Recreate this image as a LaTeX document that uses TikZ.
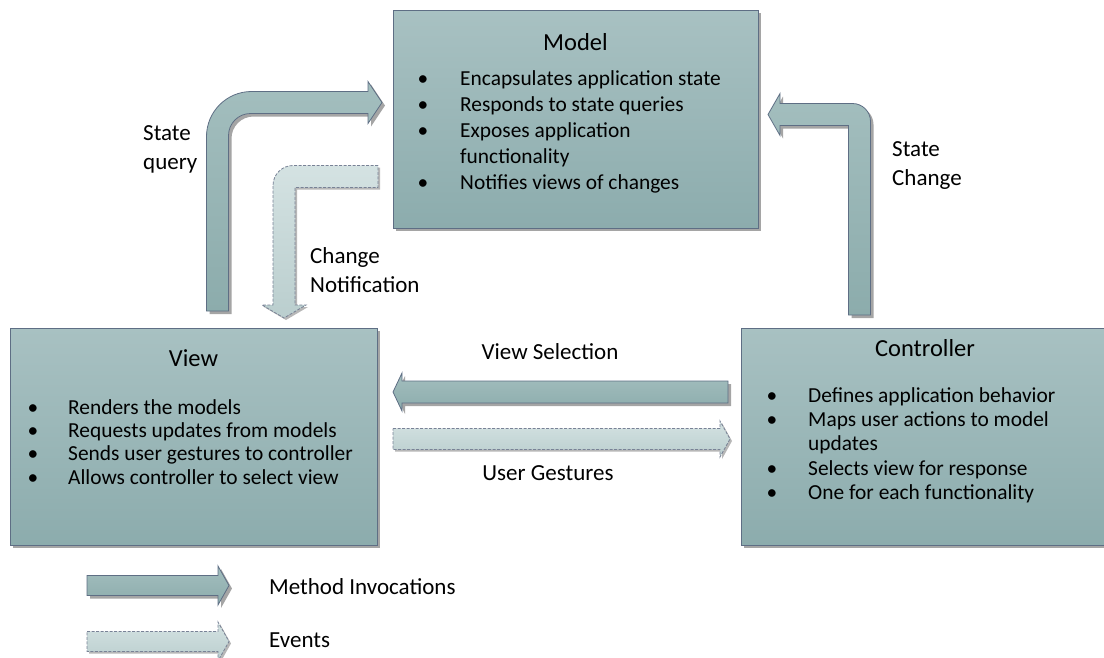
\documentclass[tikz,border=0pt]{standalone}
\usepackage{fontspec}
\setmainfont{Carlito}
\usetikzlibrary{shadows}
\definecolor{boxtop}{RGB}{168,193,194}
\definecolor{boxbot}{RGB}{140,172,173}
\definecolor{boxline}{RGB}{94,110,132}
\definecolor{shadowgrey}{RGB}{165,165,165}
\definecolor{calltop}{RGB}{163,190,190}
\definecolor{callbot}{RGB}{140,172,172}
\definecolor{evtop}{RGB}{212,226,226}
\definecolor{evbot}{RGB}{186,206,206}
\definecolor{evline}{RGB}{120,130,150}
\tikzset{box/.style={draw=boxline, line width=1pt, top color=boxtop, bottom color=boxbot, inner sep=0pt, minimum width=367pt, minimum height=217pt, drop shadow={shadow xshift=3pt, shadow yshift=-3pt, fill=shadowgrey, opacity=1}}}
\tikzset{title/.style={anchor=base, inner sep=0pt, font=\fontsize{24.5}{29}\selectfont}}
\tikzset{dot/.style={anchor=base, inner sep=0pt, font=\fontsize{21.4}{25}\selectfont}}
\tikzset{item/.style={anchor=base west, inner sep=0pt, font=\fontsize{21.4}{25}\selectfont}}
\tikzset{lbl/.style={inner sep=0pt, align=left, font=\fontsize{23}{29}\selectfont}}
\tikzset{callarrow/.style={draw=boxline, line width=0.8pt, top color=calltop, bottom color=callbot, drop shadow={shadow xshift=3pt, shadow yshift=-3pt, fill=shadowgrey, opacity=1}}}
\tikzset{eventarrow/.style={draw=evline, line width=0.8pt, dash pattern=on 3pt off 1.5pt, top color=evtop, bottom color=evbot, drop shadow={shadow xshift=2pt, shadow yshift=-2pt, fill=shadowgrey, opacity=.8}}}

\begin{document}
\begin{tikzpicture}[x=1pt,y=-1pt]
\useasboundingbox (0,0) rectangle (1104,657);

%boxes
\node[box, minimum width=365pt, minimum height=218pt] (model) at (575.5,119) {};
\node[box] (view) at (193.5,436.5) {};
\node[box] (ctrl) at (924.5,436.5) {};

%model
\node[title] (model-t) at (575.5,50) {Model};
\node[dot] (m1d) at (423,85)  {\textbullet};	\node[item] (m1) at (460,85)  {Encapsulates application state};
\node[dot] (m2d) at (423,111) {\textbullet};	\node[item] (m2) at (460,111) {Responds to state queries};
\node[dot] (m3d) at (423,137) {\textbullet};	\node[item] (m3) at (460,137) {Exposes application};
												\node[item] (m3b) at (460,163) {functionality};
\node[dot] (m4d) at (423,189) {\textbullet};	\node[item] (m4) at (460,189) {Notifies views of changes};

%view
\node[title] (view-t) at (193.5,366) {View};
\node[dot] (v1d) at (33,414)   {\textbullet};	\node[item] (v1) at (68,414)   {Renders the models};
\node[dot] (v2d) at (33,437)   {\textbullet};	\node[item] (v2) at (68,437)   {Requests updates from models};
\node[dot] (v3d) at (33,460.5) {\textbullet};	\node[item] (v3) at (68,460.5) {Sends user gestures to controller};
\node[dot] (v4d) at (33,484)   {\textbullet};	\node[item] (v4) at (68,484)   {Allows controller to select view};

%controller
\node[title] (ctrl-t) at (925,356) {Controller};
\node[dot] (c1d) at (772,402)   {\textbullet};	\node[item] (c1) at (808,402)   {Defines application behavior};
\node[dot] (c2d) at (772,426)   {\textbullet};	\node[item] (c2) at (808,426)   {Maps user actions to model};
												\node[item] (c2b) at (808,450.5) {updates};
\node[dot] (c3d) at (772,475)   {\textbullet};	\node[item] (c3) at (808,475)   {Selects view for response};
\node[dot] (c4d) at (772,499)   {\textbullet};	\node[item] (c4) at (808,499)   {One for each functionality};

%arrow ends
\coordinate (sq-tail) at (217.5,311);	\coordinate (sq-tip) at (382,102.5);	 %view--model
\coordinate (cn-tail) at (378,176.5);	\coordinate (cn-tip) at (284,318);		 %model--view
\coordinate (sc-tail) at (859.5,315);	\coordinate (sc-tip) at (768,114.5);	 %ctrl--model
\coordinate (vs-tail) at (728,392);		\coordinate (vs-tip) at (393,392);		 %ctrl--view
\coordinate (ug-tail) at (393,439);		\coordinate (ug-tip) at (730,439);		 %view--ctrl
\coordinate (lm-tail) at (87,585.5);	\coordinate (lm-tip) at (229,585.5);	 %legend
\coordinate (le-tail) at (87,641.5);	\coordinate (le-tip) at (229,641.5);	 %legend

%bent arrows
\draw[callarrow] (sq-tail) ++(-11,0) -- ++(0,-174.5) arc[start angle=180, end angle=270, radius=45] -- ++(116.5,0) -- ++(0,-10)
	-- (sq-tip) -- ++(-14,21) -- ++(0,-10) -- ++(-117.5,0) arc[start angle=270, end angle=180, radius=22] -- ++(0,175.5) -- cycle;
\draw[eventarrow] (cn-tail) ++(0,-11) -- ++(-85,0) arc[start angle=270, end angle=180, radius=20] -- ++(0,119.5) -- ++(-11,0)
	-- (cn-tip) -- ++(22,-13) -- ++(-11,0) -- ++(0,-117.5) -- ++(83,0) -- cycle;
\draw[callarrow] (sc-tail) ++(-11,0) -- ++(0,-189.5) -- ++(-68.5,0) -- ++(0,10)
	-- (sc-tip) -- ++(12,-21) -- ++(0,10) -- ++(72.5,0) arc[start angle=270, end angle=360, radius=18] -- ++(0,193.5) -- cycle;

%straight arrows
\draw[callarrow]  (vs-tail) ++(0,-11) -- ++(-326,0) -- ++(0,-8) -- (vs-tip) -- ++(9,19) -- ++(0,-8) -- ++(326,0) -- cycle;
\draw[eventarrow] (ug-tail) ++(0,-10.5) -- ++(327,0) -- ++(0,-7.5) -- (ug-tip) -- ++(-10,18) -- ++(0,-7.5) -- ++(-327,0) -- cycle;
\draw[callarrow]  (lm-tail) ++(0,-10) -- ++(131,0) -- ++(0,-9.5) -- (lm-tip) -- ++(-11,19.5) -- ++(0,-9.5) -- ++(-131,0) -- cycle;
\draw[eventarrow] (le-tail) ++(0,-10) -- ++(131,0) -- ++(0,-9.5) -- (le-tip) -- ++(-11,19.5) -- ++(0,-9.5) -- ++(-131,0) -- cycle;

%labels
\node[lbl, anchor=west] (sq-l) at (143,149)   {State\\query};
\node[lbl, anchor=west] (cn-l) at (310,270)   {Change\\Notification};
\node[lbl, anchor=west] (sc-l) at (892,165.5) {State\\Change};
\node[lbl, anchor=base] (vs-l) at (550,359.5) {View Selection};
\node[lbl, anchor=base] (ug-l) at (548,480.5) {User Gestures};
%
\node[lbl, anchor=base west] (lm-l) at (269,594.5) {Method Invocations};
\node[lbl, anchor=base west] (le-l) at (269,647.5) {Events};
\end{tikzpicture}
\end{document}
